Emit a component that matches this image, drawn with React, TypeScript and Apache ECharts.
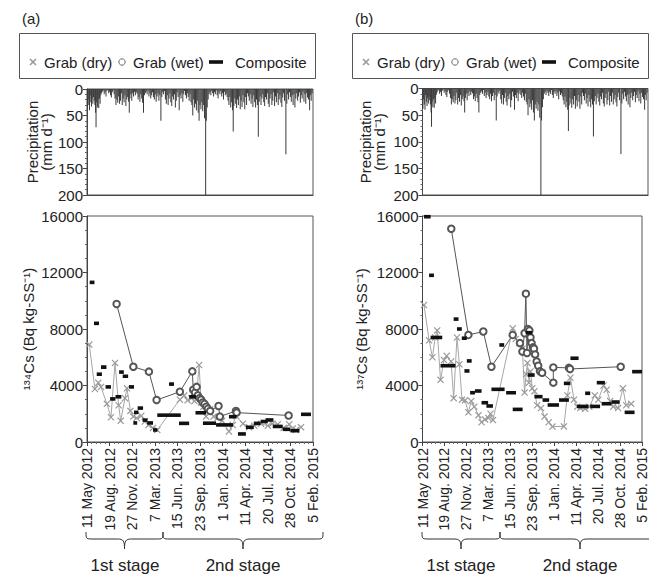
import React, { useEffect, useRef } from 'react';
import * as echarts from 'echarts';

// x values are days since 11 May 2012
const tickLabels = ['11 May 2012', '19 Aug. 2012', '27 Nov. 2012', '7 Mar. 2013', '15 Jun. 2013', '23 Sep. 2013', '1 Jan. 2014', '11 Apr. 2014', '20 Jul. 2014', '28 Oct. 2014', '5 Feb. 2015'];

const precipitation: [number, number][] = [
  [2, 38], [5, 20], [8, 30], [11, 40], [14, 12], [17, 25], [20, 33], [23, 18], [26, 28], [29, 15], [32, 22], [35, 30], [38, 45], [40, 72], [43, 25], [46, 35], [49, 20], [52, 36], [55, 18], [58, 28], [61, 12], [64, 8], [68, 5], [72, 3], [76, 10], [80, 6], [84, 14], [88, 4], [92, 2],
  [96, 8], [100, 5], [104, 12], [108, 16], [112, 6], [116, 3], [120, 10], [124, 18], [128, 30], [132, 20], [136, 26], [140, 14], [144, 28], [148, 22], [152, 8], [156, 30], [160, 18], [164, 25], [168, 12], [172, 32], [176, 20], [180, 15], [184, 24], [187, 45], [190, 18], [194, 10], [198, 22], [202, 8], [206, 14],
  [210, 5], [214, 12], [218, 6], [222, 9], [226, 20], [230, 15], [234, 24], [238, 10], [242, 18], [246, 26], [250, 45], [254, 12], [258, 8], [262, 5], [266, 10], [270, 3], [274, 14], [278, 8], [282, 18], [286, 12], [290, 6], [294, 15], [298, 20], [302, 10], [306, 24], [310, 14], [314, 8], [318, 22], [322, 12], [327, 60], [331, 15],
  [335, 6], [339, 10], [343, 4], [347, 20], [351, 28], [355, 12], [359, 30], [363, 18], [367, 8], [371, 25], [375, 32], [379, 14], [383, 20], [387, 10], [391, 35], [395, 22], [399, 6], [403, 15], [408, 40], [412, 12], [416, 18], [420, 8], [424, 24], [428, 10],
  [432, 4], [436, 12], [440, 18], [444, 8], [448, 15], [452, 22], [456, 10], [460, 25], [464, 30], [468, 50], [472, 20], [476, 35], [480, 28], [484, 40], [488, 22], [492, 45], [496, 60], [500, 30], [504, 38], [508, 25], [512, 42], [516, 30], [520, 55], [525, 200], [528, 60], [532, 35], [536, 20], [540, 10],
  [544, 6], [548, 12], [552, 4], [556, 8], [560, 14], [564, 6], [568, 10], [572, 3], [576, 12], [580, 18], [584, 6], [588, 10], [592, 4], [596, 14], [600, 8], [604, 20], [608, 5], [612, 12], [616, 9], [620, 15],
  [624, 22], [628, 30], [632, 15], [636, 35], [640, 25], [644, 40], [647, 80], [650, 32], [654, 18], [658, 28], [662, 36], [666, 20], [670, 30], [674, 14], [678, 38], [682, 22], [686, 34], [690, 12], [694, 25], [698, 38], [702, 15], [706, 30], [710, 8], [714, 14],
  [718, 22], [722, 10], [726, 28], [730, 18], [734, 34], [738, 12], [742, 25], [746, 35], [750, 20], [754, 30], [758, 90], [762, 24], [766, 14], [770, 30], [774, 18], [778, 10],
  [782, 25], [786, 32], [790, 15], [794, 20], [798, 8], [802, 28], [806, 34], [810, 18], [814, 10], [818, 30], [822, 22], [826, 6], [830, 32], [834, 14], [838, 25], [842, 8], [846, 30], [850, 20], [854, 12], [858, 26], [862, 34], [866, 16], [870, 8], [874, 22], [880, 123], [884, 28], [888, 10], [892, 20], [896, 6], [900, 15], [904, 24], [908, 12], [912, 30], [916, 10], [920, 35], [924, 18], [928, 8], [932, 22], [936, 14], [940, 6], [944, 26], [948, 12], [952, 18], [956, 5], [960, 24], [964, 10], [968, 28], [972, 8], [976, 16], [980, 20], [985, 40], [988, 12], [992, 22], [996, 8],
];

// Panel (a) 134Cs
const dryA: [number, number][] = [
  [10, 6900], [35, 3750], [50, 4200], [62, 3900], [88, 2700], [106, 1750], [124, 5600], [140, 2600], [149, 1500], [168, 3100], [177, 3800], [192, 2200], [205, 1800], [220, 1700], [240, 1850], [256, 1450], [272, 1200], [292, 1000], [311, 850],
  [411, 3000], [430, 3300], [445, 2950], [462, 3100], [475, 2900], [485, 3300], [496, 5450], [505, 2800], [515, 2500], [527, 1800], [545, 2300], [560, 1800], [578, 1700], [598, 1500], [628, 750], [645, 1200], [659, 1850], [690, 1300], [717, 1050], [740, 1150], [770, 1300], [800, 1150], [820, 1300], [844, 1250], [870, 1000], [895, 1250], [910, 950], [925, 850], [947, 1050],
];
const wetA: [number, number][] = [
  [131, 9770], [205, 5330], [274, 4980], [308, 2970], [411, 3560], [466, 5000], [470, 3700], [478, 3500], [485, 3900], [490, 3300], [498, 3100], [505, 3000], [512, 2800], [520, 2700], [528, 2500], [535, 2350], [545, 2200], [582, 2550], [588, 1800], [659, 2200], [662, 2080], [892, 1880],
];
const compositeA: [number, number, number][] = [
  [12, 33, 11300], [31, 53, 8400], [43, 66, 4800], [62, 86, 5300], [82, 106, 3900], [102, 126, 3050], [126, 152, 3200], [142, 163, 4950], [158, 182, 4650], [186, 208, 3900], [205, 222, 1350], [208, 228, 2100], [224, 248, 2400], [246, 268, 1550], [266, 292, 1350], [292, 312, 850],
  [311, 363, 1900], [363, 415, 1900], [363, 385, 4100], [407, 452, 1320], [452, 482, 3200], [480, 527, 2070], [513, 571, 1330], [571, 646, 1210], [628, 662, 1790], [668, 703, 570], [703, 738, 1040], [738, 768, 1320], [768, 800, 1450], [790, 825, 1560], [822, 866, 1100], [866, 900, 900], [900, 940, 800], [947, 991, 1960],
];

// Panel (b) 137Cs
const dryB: [number, number][] = [
  [7, 9700], [30, 7200], [45, 6000], [58, 7400], [67, 7900], [82, 4400], [98, 5800], [110, 6100], [130, 5700], [142, 3100], [157, 7400], [168, 5500], [180, 3000], [194, 2950], [209, 2100], [222, 2900], [236, 2500], [255, 1900], [269, 1400], [285, 1600], [300, 1700], [310, 2000], [321, 1550],
  [411, 8050], [425, 7300], [441, 7000], [455, 6600], [465, 3500], [472, 4800], [478, 5600], [485, 4200], [492, 5000], [500, 3800], [510, 3600], [522, 2600], [540, 2400], [556, 1800], [575, 1400], [592, 1090], [644, 1100], [660, 3300], [674, 4550], [690, 3000], [705, 2500], [719, 2400], [741, 2350], [760, 2500], [785, 3300], [801, 3000], [825, 4000], [839, 3700], [855, 2900], [869, 2500], [891, 2400], [913, 3800], [928, 2600], [951, 2700],
];
const wetB: [number, number][] = [
  [131, 15100], [209, 7580], [277, 7820], [314, 5330], [411, 7580], [444, 7000], [455, 6400], [465, 7700], [471, 10500], [476, 6300], [480, 8000], [487, 7900], [492, 7400], [497, 7000], [503, 6700], [508, 6600], [513, 6200], [520, 5700], [527, 5400], [535, 5000], [545, 4900], [596, 4200], [596, 5280], [667, 5250], [672, 5170], [903, 5330],
];
const compositeB: [number, number, number][] = [
  [7, 37, 15950], [30, 52, 11800], [37, 90, 7400], [82, 150, 5400], [142, 164, 8700], [157, 179, 8000], [179, 202, 7350], [191, 214, 5030], [202, 224, 5740], [217, 239, 3490], [239, 269, 3610], [269, 299, 2780], [291, 321, 2550], [314, 374, 3730], [350, 372, 6870], [381, 426, 3490], [411, 456, 2310],
  [470, 500, 7740], [480, 511, 4740], [510, 547, 3210], [547, 577, 2970], [570, 622, 2620], [622, 667, 2970], [644, 674, 4150], [674, 711, 5930], [704, 756, 2520], [741, 764, 3450], [764, 809, 2520], [794, 831, 4200], [816, 861, 2710], [861, 898, 2830], [921, 966, 2100], [955, 1000, 4980],
];

const FONT = '"Liberation Sans", Arial, Helvetica, sans-serif';
const TXT = '#222';
const AX = '#444';
const CROSS = 'path://M0,1.2L1.2,0L5,3.8L8.8,0L10,1.2L6.2,5L10,8.8L8.8,10L5,6.2L1.2,10L0,8.8L3.8,5Z';

function braceEls(xL: number, xR: number) {
  const yTop = 532, yMid = 539, yTip = 549, r = 7;
  const xm = (xL + xR) / 2;
  const st = { stroke: '#333', lineWidth: 1, fill: 'none' };
  return [
    { type: 'bezierCurve', shape: { x1: xL, y1: yTop, cpx1: xL, cpy1: yMid, cpx2: xL, cpy2: yMid, x2: xL + r, y2: yMid }, style: st },
    { type: 'line', shape: { x1: xL + r, y1: yMid, x2: xm - r, y2: yMid }, style: st },
    { type: 'bezierCurve', shape: { x1: xm - r, y1: yMid, cpx1: xm - 1, cpy1: yMid, cpx2: xm, cpy2: yMid + 2, x2: xm, y2: yTip }, style: st },
    { type: 'bezierCurve', shape: { x1: xm + r, y1: yMid, cpx1: xm + 1, cpy1: yMid, cpx2: xm, cpy2: yMid + 2, x2: xm, y2: yTip }, style: st },
    { type: 'line', shape: { x1: xm + r, y1: yMid, x2: xR - r, y2: yMid }, style: st },
    { type: 'bezierCurve', shape: { x1: xR, y1: yTop, cpx1: xR, cpy1: yMid, cpx2: xR, cpy2: yMid, x2: xR - r, y2: yMid }, style: st },
  ];
}

function legendEls(dx: number) {
  const cy = 62;
  const ts = (t: string, x: number) => ({ type: 'text', x: x + dx, y: cy, style: { text: t, fontSize: 15, fontFamily: FONT, fill: TXT, align: 'left', verticalAlign: 'middle' } });
  return [
    { type: 'rect', shape: { x: 19.5 + dx, y: 33.5, width: 296, height: 45 }, style: { fill: '#fff', stroke: '#555', lineWidth: 1 } },
    { type: 'line', shape: { x1: 30 + dx, y1: 59, x2: 36 + dx, y2: 65 }, style: { stroke: '#999', lineWidth: 1.6 } },
    { type: 'line', shape: { x1: 36 + dx, y1: 59, x2: 30 + dx, y2: 65 }, style: { stroke: '#999', lineWidth: 1.6 } },
    ts('Grab (dry)', 44),
    { type: 'circle', shape: { cx: 122 + dx, cy, r: 3.2 }, style: { fill: '#fff', stroke: '#666', lineWidth: 1 } },
    ts('Grab (wet)', 133),
    { type: 'rect', shape: { x: 209 + dx, y: 60.2, width: 14, height: 3.6 }, style: { fill: '#111' } },
    ts('Composite', 235),
  ];
}

function rotText(t: string, x: number, y: number) {
  return { type: 'text', x, y, rotation: Math.PI / 2, style: { text: t, fontSize: 15, fontFamily: FONT, fill: TXT, align: 'center', verticalAlign: 'middle', lineHeight: 14 } };
}

function plainText(t: string, x: number, y: number, size: number, align = 'center') {
  return { type: 'text', x, y, style: { text: t, fontSize: size, fontFamily: FONT, fill: TXT, align, verticalAlign: 'middle' } };
}

const gridBase = { show: true, borderColor: '#555', borderWidth: 1, backgroundColor: 'transparent' };

function xAxisDef(gridIndex: number, labels: boolean) {
  return {
    type: 'value', gridIndex, min: 0, max: 1000, interval: 100,
    axisLine: { show: true, onZero: false, lineStyle: { color: AX } },
    axisTick: { show: labels, length: 4, lineStyle: { color: AX } },
    minorTick: { show: labels, splitNumber: 5, length: 2, lineStyle: { color: '#666' } },
    splitLine: { show: false },
    axisLabel: {
      show: labels, rotate: 90, margin: 6, fontSize: 14, color: TXT, fontFamily: FONT,
      showMinLabel: true, showMaxLabel: true,
      formatter: (v: number) => tickLabels[Math.round(v / 100)] ?? '',
    },
  };
}

function yAxisDef(gridIndex: number, precip: boolean) {
  return {
    type: 'value', gridIndex,
    min: 0, max: precip ? 200 : 16000, interval: precip ? 50 : 4000, inverse: precip,
    axisLine: { show: true, onZero: false, lineStyle: { color: AX } },
    axisTick: { show: true, length: 4, lineStyle: { color: AX } },
    minorTick: { show: true, splitNumber: precip ? 5 : 4, length: 2, lineStyle: { color: '#666' } },
    splitLine: { show: false },
    axisLabel: { fontSize: 15, color: TXT, fontFamily: FONT, margin: 4, showMinLabel: true, showMaxLabel: true, formatter: (v: number) => String(v) },
  };
}

function compositeRender(params: any, api: any) {
  const v = api.value(2);
  const s = api.coord([api.value(0), v]);
  const e = api.coord([api.value(1), v]);
  return { type: 'rect', shape: { x: s[0], y: s[1] - 1.8, width: Math.max(e[0] - s[0], 2), height: 3.6 }, style: { fill: '#111' } };
}

function panelSeries(pIdx: number, cIdx: number, dry: [number, number][], wet: [number, number][], comp: [number, number, number][]) {
  return [
    { type: 'bar', xAxisIndex: pIdx, yAxisIndex: pIdx, data: precipitation, barWidth: 1, itemStyle: { color: '#3a3a3a' }, silent: true },
    { type: 'line', xAxisIndex: cIdx, yAxisIndex: cIdx, data: dry, symbol: CROSS, symbolSize: 7, itemStyle: { color: '#9a9a9a' }, lineStyle: { color: '#a6a6a6', width: 1 }, z: 2 },
    { type: 'line', xAxisIndex: cIdx, yAxisIndex: cIdx, data: wet, symbol: 'emptyCircle', symbolSize: 6.5, itemStyle: { color: '#555', borderWidth: 1 }, lineStyle: { color: '#555', width: 1 }, z: 3 },
    { type: 'custom', xAxisIndex: cIdx, yAxisIndex: cIdx, data: comp, renderItem: compositeRender, encode: { x: [0, 1], y: 2 }, z: 4 },
  ];
}

const option: any = {
  animation: false,
  backgroundColor: '#fff',
  textStyle: { fontFamily: FONT },
  grid: [
    { ...gridBase, left: 87, top: 89, width: 226, height: 106 },
    { ...gridBase, left: 87, top: 216, width: 226, height: 226 },
    { ...gridBase, left: 422.5, top: 88.5, width: 225.5, height: 106.5 },
    { ...gridBase, left: 422.5, top: 216, width: 225.5, height: 226 },
  ],
  xAxis: [xAxisDef(0, false), xAxisDef(1, true), xAxisDef(2, false), xAxisDef(3, true)],
  yAxis: [yAxisDef(0, true), yAxisDef(1, false), yAxisDef(2, true), yAxisDef(3, false)],
  series: [
    ...panelSeries(0, 1, dryA, wetA, compositeA),
    ...panelSeries(2, 3, dryB, wetB, compositeB),
  ],
  graphic: [
    plainText('(a)', 22, 18, 15, 'left'),
    plainText('(b)', 355, 18, 15, 'left'),
    ...legendEls(0),
    ...legendEls(333),
    rotText('Precipitation\n(mm d⁻¹)', 39, 142),
    rotText('¹³⁴Cs (Bq kg-SS⁻¹)', 28, 329),
    rotText('Precipitation\n(mm d⁻¹)', 372, 142),
    rotText('¹³⁷Cs (Bq kg-SS⁻¹)', 361, 329),
    ...braceEls(86, 163),
    ...braceEls(163, 323),
    ...braceEls(422, 500),
    ...braceEls(500, 660),
    plainText('1st stage', 125, 565, 17),
    plainText('2nd stage', 243, 565, 17),
    plainText('1st stage', 461, 565, 17),
    plainText('2nd stage', 580, 565, 17),
  ],
};

export default function App() {
  const ref = useRef<HTMLDivElement>(null);
  useEffect(() => {
    const chart = echarts.init(ref.current as HTMLDivElement, null, { renderer: 'svg' });
    chart.setOption(option);
    return () => chart.dispose();
  }, []);
  return <div ref={ref} style={{ position: 'fixed', left: 0, top: 0, width: 649, height: 576, background: '#fff' }} />;
}
